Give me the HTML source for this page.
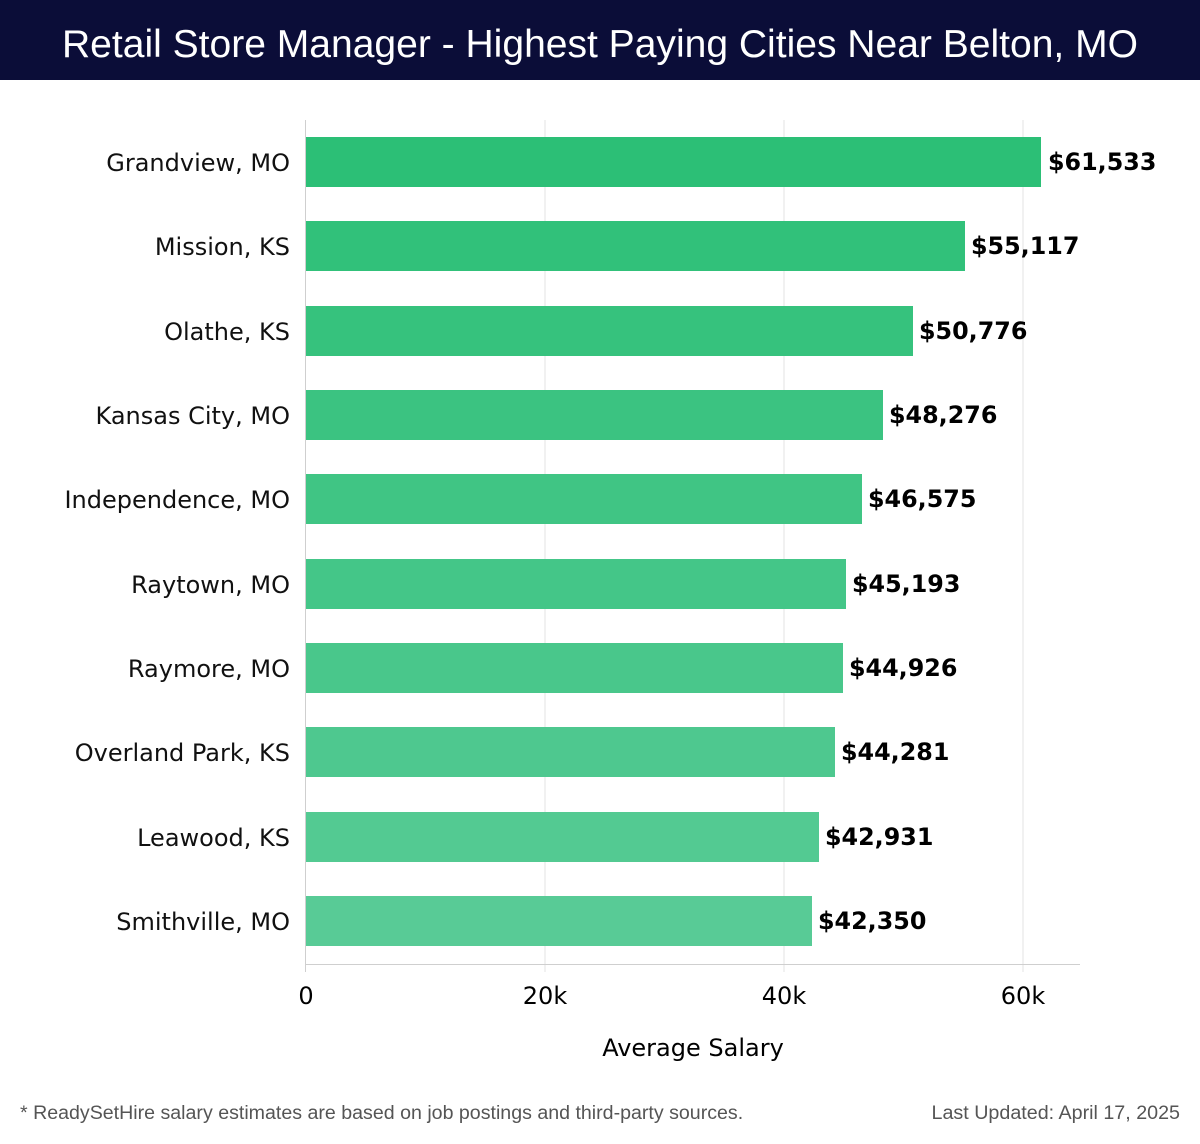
<!DOCTYPE html>
<html><head><meta charset="utf-8"><style>
body{margin:0;background:#fff;width:1200px;height:1140px;overflow:hidden;font-family:"DejaVu Sans","Liberation Sans",sans-serif}
</style></head><body>
<svg width="1200" height="1140" xmlns="http://www.w3.org/2000/svg" font-family="DejaVu Sans, Liberation Sans, sans-serif">
<rect x="0" y="0" width="1200" height="80" fill="#0b0d38"/>
<text x="600" y="57" text-anchor="middle" fill="#fff" font-size="39" font-family="Liberation Sans, sans-serif" textLength="1076" lengthAdjust="spacingAndGlyphs">Retail Store Manager - Highest Paying Cities Near Belton, MO</text>
<g stroke="#e3e3e3" stroke-width="1">
<line x1="545" y1="120" x2="545" y2="972"/><line x1="784" y1="120" x2="784" y2="972"/><line x1="1023" y1="120" x2="1023" y2="972"/>
</g>
<line x1="305.5" y1="120" x2="305.5" y2="972" stroke="#cfcfcf"/>
<line x1="305" y1="964.5" x2="1080" y2="964.5" stroke="#cfcfcf"/>
<g font-size="24" fill="#000" text-anchor="middle">
<text x="306" y="1004">0</text><text x="545" y="1004">20k</text><text x="784" y="1004">40k</text><text x="1023" y="1004">60k</text>
<text x="693" y="1056">Average Salary</text>
</g>
<g font-size="24" fill="#111" text-anchor="end">
<text x="290" y="171">Grandview, MO</text>
<text x="290" y="255">Mission, KS</text>
<text x="290" y="340">Olathe, KS</text>
<text x="290" y="424">Kansas City, MO</text>
<text x="290" y="508">Independence, MO</text>
<text x="290" y="593">Raytown, MO</text>
<text x="290" y="677">Raymore, MO</text>
<text x="290" y="761">Overland Park, KS</text>
<text x="290" y="846">Leawood, KS</text>
<text x="290" y="930">Smithville, MO</text>
</g>
<g>
<rect x="306" y="137" width="735" height="50" fill="#2cbf76"/>
<rect x="306" y="221" width="659" height="50" fill="#31c17a"/>
<rect x="306" y="306" width="607" height="50" fill="#36c27d"/>
<rect x="306" y="390" width="577" height="50" fill="#3bc381"/>
<rect x="306" y="474" width="556" height="50" fill="#40c584"/>
<rect x="306" y="559" width="540" height="50" fill="#44c688"/>
<rect x="306" y="643" width="537" height="50" fill="#49c78b"/>
<rect x="306" y="727" width="529" height="50" fill="#4ec88f"/>
<rect x="306" y="812" width="513" height="50" fill="#53ca92"/>
<rect x="306" y="896" width="506" height="50" fill="#58cb96"/>
</g>
<g font-size="23.8" font-weight="bold" fill="#000">
<text x="1048" y="170">$61,533</text>
<text x="971" y="254">$55,117</text>
<text x="919" y="339">$50,776</text>
<text x="889" y="423">$48,276</text>
<text x="868" y="507">$46,575</text>
<text x="852" y="592">$45,193</text>
<text x="849" y="676">$44,926</text>
<text x="841" y="760">$44,281</text>
<text x="825" y="845">$42,931</text>
<text x="818" y="929">$42,350</text>
</g>
<text x="20" y="1119" font-size="19.6" fill="#555" font-family="Liberation Sans, sans-serif">* ReadySetHire salary estimates are based on job postings and third-party sources.</text>
<text x="1180" y="1119" font-size="19.7" fill="#555" text-anchor="end" font-family="Liberation Sans, sans-serif">Last Updated: April 17, 2025</text>
</svg>
</body></html>
